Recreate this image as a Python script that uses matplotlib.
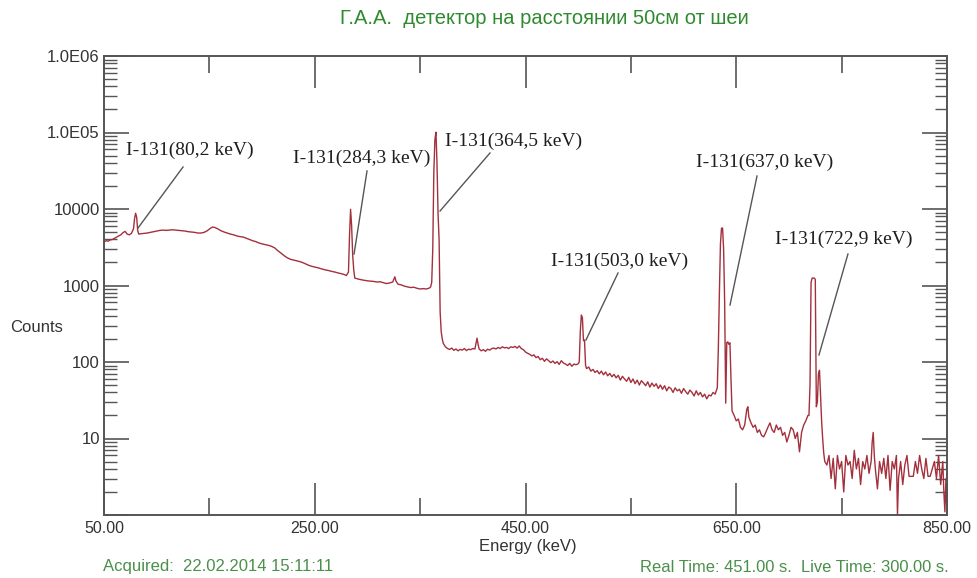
import matplotlib
matplotlib.use("Agg")
import matplotlib.pyplot as plt
from matplotlib.ticker import FixedLocator, FixedFormatter, NullFormatter
import numpy as np

# ---------------- data ----------------
energy_kev = [
    50, 52, 54, 56, 58, 60, 62, 64, 66, 68,
    70, 72, 74, 76, 78, 79, 80, 81, 82, 83,
    85, 88, 91, 94, 97, 100, 103, 106, 109, 112,
    115, 118, 121, 124, 127, 130, 133, 136, 139, 142,
    145, 148, 151, 153, 155, 158, 161, 164, 167, 170,
    173, 176, 179, 182, 185, 188, 191, 194, 197, 200,
    203, 206, 209, 212, 215, 218, 221, 224, 227, 230,
    233, 236, 239, 242, 245, 248, 251, 254, 257, 260,
    263, 266, 269, 272, 275, 278, 280, 282, 283, 284,
    285, 286, 287, 288, 291, 294, 297, 300, 303, 306,
    309, 312, 315, 318, 321, 324, 326, 327, 329, 332,
    335, 338, 341, 344, 347, 350, 353, 356, 359, 360,
    361, 362, 363, 364, 365, 366, 367, 368, 369, 370,
    371, 372, 374, 376, 378, 380, 382, 384, 386, 388,
    390, 392, 394, 396, 398, 400, 402, 404, 405, 406,
    408, 410, 412, 414, 416, 418, 420, 422, 424, 426,
    428, 430, 432, 434, 436, 438, 440, 442, 444, 446,
    448, 450, 452, 454, 456, 458, 460, 462, 464, 466,
    468, 470, 472, 474, 476, 478, 480, 482, 484, 486,
    488, 490, 492, 494, 496, 498, 500, 501, 502, 503,
    504, 505, 506, 507, 508, 510, 512, 514, 516, 518,
    520, 522, 524, 526, 528, 530, 532, 534, 536, 538,
    540, 542, 544, 546, 548, 550, 552, 554, 556, 558,
    560, 562, 564, 566, 568, 570, 572, 574, 576, 578,
    580, 582, 584, 586, 588, 590, 592, 594, 596, 598,
    600, 602, 604, 606, 608, 610, 612, 614, 616, 618,
    620, 622, 624, 626, 628, 630, 632, 633, 634, 635,
    636, 637, 638, 639, 640, 641, 642, 643, 644, 645,
    646, 648, 650, 652, 654, 656, 658, 660, 661, 662,
    664, 666, 668, 670, 672, 674, 676, 678, 680, 682,
    684, 686, 688, 690, 692, 694, 696, 698, 700, 702,
    704, 706, 708, 710, 712, 714, 716, 718, 719, 720,
    721, 722, 723, 724, 725, 726, 727, 728, 729, 730,
    731, 732, 733, 734, 736, 738, 740, 742, 744, 746,
    748, 750, 752, 754, 756, 758, 760, 762, 764, 766,
    768, 770, 772, 774, 776, 778, 779, 780, 781, 782,
    784, 786, 788, 790, 792, 794, 796, 798, 800, 802,
    803, 804, 806, 808, 810, 812, 814, 816, 818, 820,
    822, 824, 826, 828, 830, 832, 834, 836, 838, 840,
    842, 844, 846, 847, 848, 849, 850,
]
counts = [
    3700, 3850, 3800, 3950, 4000, 4150, 4300, 4450, 4600, 4900,
    5100, 4700, 4600, 4800, 5500, 7500, 8800, 7800, 5200, 4700,
    4750, 4800, 4850, 4950, 5050, 5150, 5250, 5300, 5250, 5300,
    5350, 5300, 5250, 5200, 5150, 5050, 5000, 4950, 4850, 4850,
    4950, 5200, 5600, 5800, 5750, 5500, 5200, 5000, 4850, 4700,
    4600, 4450, 4350, 4300, 4150, 4000, 3850, 3750, 3600, 3500,
    3420, 3350, 3250, 3100, 2850, 2650, 2450, 2300, 2200, 2150,
    2100, 2050, 1980, 1900, 1820, 1770, 1730, 1690, 1640, 1600,
    1570, 1530, 1500, 1460, 1430, 1390, 1350, 1500, 4500, 9900,
    6000, 2500, 1600, 1250, 1217, 1190, 1170, 1150, 1140, 1130,
    1110, 1120, 1090, 1060, 1080, 1110, 1300, 1150, 1040, 1020,
    980, 960, 940, 950, 920, 900, 910, 900, 930, 960,
    1100, 3000, 30000, 80000, 101000, 40000, 8800, 4000, 450, 250,
    200, 175, 158, 150, 146, 152, 142, 148, 140, 146,
    143, 150, 141, 147, 145, 150, 148, 205, 170, 148,
    140, 145, 138, 147, 143, 150, 152, 148, 155, 150,
    158, 153, 155, 150, 158, 155, 160, 152, 162, 150,
    145, 135, 130, 126, 120, 124, 114, 118, 107, 112,
    102, 110, 104, 98, 103, 96, 101, 93, 104, 97,
    94, 90, 96, 88, 94, 92, 95, 100, 250, 411,
    380, 190, 194, 90, 82, 86, 76, 80, 73, 77,
    70, 76, 68, 74, 66, 71, 64, 69, 62, 67,
    58, 65, 60, 56, 63, 54, 60, 52, 58, 50,
    57, 53, 49, 55, 47, 53, 48, 52, 45, 50,
    44, 49, 42, 47, 45, 40, 46, 42, 44, 39,
    45, 41, 38, 43, 40, 36, 42, 37, 40, 35,
    38, 33, 37, 36, 40, 38, 46, 150, 800, 3500,
    5600, 5650, 3000, 600, 29, 180, 183, 170, 178, 60,
    23, 20, 17, 18, 14, 13, 15, 24, 26, 19,
    16, 14, 15, 12, 13, 11, 10.5, 12, 14, 16,
    13, 12, 15, 13, 14, 11, 12, 9, 11, 14,
    13, 10, 12, 6.7, 12, 15, 17, 20, 20, 50,
    1100, 1250, 1250, 1250, 1200, 26, 30, 70, 78, 35,
    17, 10, 6.5, 5, 4.5, 6, 3, 5.5, 2.2, 6,
    4, 5, 2, 6, 4.5, 5, 3, 7, 4, 5.5,
    2.5, 5, 4, 6, 3.5, 5, 9, 12, 6, 4,
    2.2, 5, 3.5, 5.5, 3, 6, 2.1, 5, 4, 6,
    1, 3, 5, 2.5, 4.5, 6, 3.2, 3.2, 3.2, 5,
    3.5, 6, 4, 3, 5.5, 3.2, 3.2, 4, 5, 3,
    6, 2.5, 5, 2, 1.1, 3, 1,
]
assert len(energy_kev) == len(counts)

peak_labels = ["I-131(80,2 keV)", "I-131(284,3 keV)", "I-131(364,5 keV)",
               "I-131(503,0 keV)", "I-131(637,0 keV)", "I-131(722,9 keV)"]
y_tick_values = [1, 10, 100, 1000, 10000, 100000, 1000000]
y_tick_labels = ["", "10", "100", "1000", "10000", "1.0E05", "1.0E06"]
x_tick_values = [50, 250, 450, 650, 850]
x_tick_labels = ["50.00", "250.00", "450.00", "650.00", "850.00"]
x_minor_values = [150, 350, 550, 750]

title_text = "Г.А.А.  детектор на расстоянии 50см от шеи"
acquired_text = "Acquired:  22.02.2014 15:11:11"
times_text = "Real Time: 451.00 s.  Live Time: 300.00 s."

# ---------------- layout ----------------
# (text anchor E, text anchor counts, line start E, line start counts, line end E, line end counts)
label_layout = [
    (70.9, 59000, 125.0, 35400, 82.3, 5650),
    (229.4, 46400, 299.6, 31400, 287.3, 2580),
    (373.6, 77400, 416.3, 54000, 368.9, 9420),
    (474.2, 2090, 537.8, 1457, 507.4, 194),
    (611.8, 41100, 669.7, 27000, 644.1, 556),
    (686.8, 4055, 756.0, 2580, 728.5, 123.6),
]

W, H = 978, 578
fig = plt.figure(figsize=(W / 100, H / 100), dpi=100)
fig.patch.set_facecolor("white")
ax = fig.add_axes([104 / W, 63 / H, 843 / W, 459 / H])

ax.plot(energy_kev, counts, color="#a3303c", lw=1.0)
ax.set_yscale("log")
ax.set_xlim(50, 850)
ax.set_ylim(1, 1e6)

sans = ["Liberation Sans", "DejaVu Sans"]
serif = ["Liberation Serif", "DejaVu Serif"]
spine_col = "#555555"
for s in ax.spines.values():
    s.set_color(spine_col)
    s.set_linewidth(1.4)

ax.yaxis.set_major_locator(FixedLocator(y_tick_values))
ax.yaxis.set_major_formatter(FixedFormatter(y_tick_labels))
minor_y = [m * 10 ** d for d in range(0, 6) for m in range(2, 10)]
ax.yaxis.set_minor_locator(FixedLocator(minor_y))
ax.yaxis.set_minor_formatter(NullFormatter())
ax.xaxis.set_major_locator(FixedLocator(x_tick_values))
ax.xaxis.set_major_formatter(FixedFormatter(x_tick_labels))
ax.xaxis.set_minor_locator(FixedLocator(x_minor_values))

ax.tick_params(axis="y", which="major", direction="in", length=18, width=1.2,
               color=spine_col, left=True, right=True, pad=3, labelsize=12,
               labelcolor="#333333")
ax.tick_params(axis="y", which="minor", direction="in", length=9, width=1.0,
               color=spine_col, left=True, right=True)
ax.tick_params(axis="x", which="major", direction="in", length=23, width=1.2,
               color=spine_col, bottom=True, top=True, pad=4, labelsize=11.5,
               labelcolor="#333333")
ax.tick_params(axis="x", which="minor", direction="in", length=12, width=1.2,
               color=spine_col, bottom=True, top=True)
for lab in ax.get_yticklabels() + ax.get_xticklabels():
    lab.set_family(sans)

for text, (tx, ty, lx0, ly0, lx1, ly1) in zip(peak_labels, label_layout):
    ax.text(tx, ty, text, ha="left", va="center", fontsize=14,
            family=serif, color="#1e1e1e")
    ax.plot([lx0, lx1], [ly0, ly1], color="#555555", lw=1.0)

fig.text(544 / W, 1 - 18 / H, title_text, ha="center", va="center",
         fontsize=14.5, color="#2f8a2f", family=sans)
fig.text(10 / W, 1 - 327 / H, "Counts", ha="left", va="center",
         fontsize=12, color="#333333", family=sans)
fig.text(528 / W, 1 - 547 / H, "Energy (keV)", ha="center", va="center",
         fontsize=12, color="#333333", family=sans)
fig.text(103 / W, 1 - 567 / H, acquired_text, ha="left", va="center",
         fontsize=12, color="#4a8f4a", family=sans)
fig.text(949 / W, 1 - 567 / H, times_text, ha="right", va="center",
         fontsize=11.9, color="#4a8f4a", family=sans)

fig.savefig("out.png", dpi=100)
